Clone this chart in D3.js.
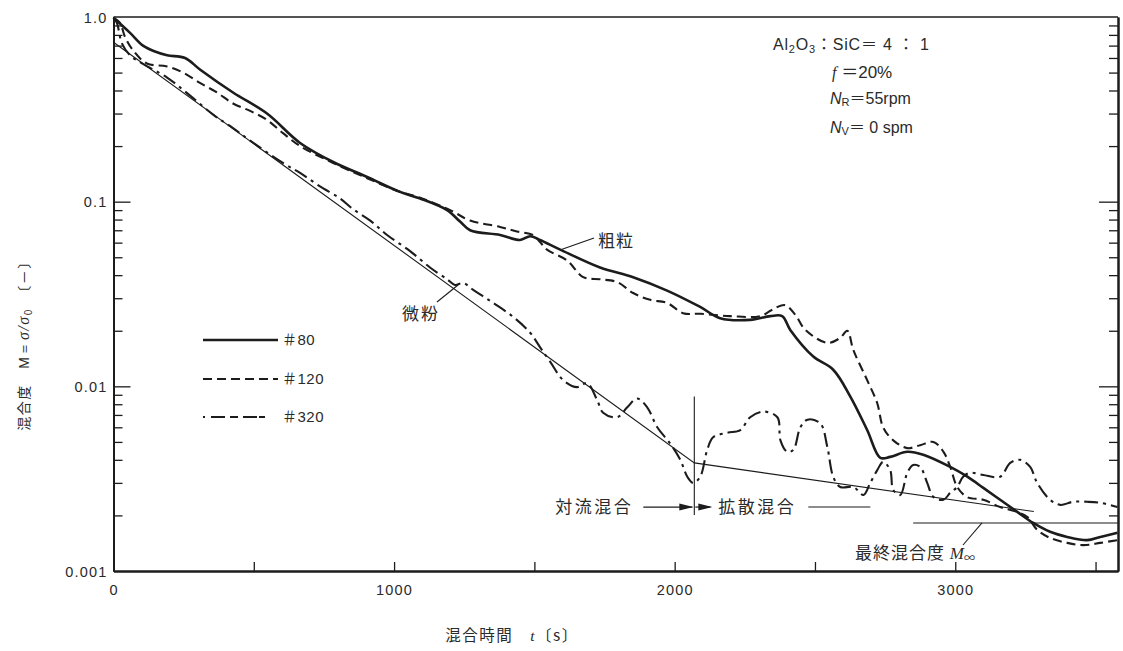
<!DOCTYPE html>
<html>
<head>
<meta charset="utf-8">
<script src="https://cdn.jsdelivr.net/npm/d3@7"></script>
<style>
  html, body { margin: 0; padding: 0; background: #fff; }
  svg { display: block; }
  text { font-family: "Liberation Sans", "Noto Sans CJK JP", sans-serif; fill: #2a2a2a; }
  .jp { font-family: "Noto Sans CJK JP", sans-serif; }
</style>
</head>
<body>
<svg id="chart" width="1123" height="651"></svg>
<script>
// ---- axis ticks ----
const xLabelTicks = [0, 1000, 2000, 3000];
const xTickMarks = [500, 1000, 1500, 2000, 2500, 3000, 3500];
const yMajorTicks = [1, 0.1, 0.01, 0.001];
const yTickLabels = ["1.0", "0.1", "0.01", "0.001"];

// ---- mixing degree M vs mixing time t [s] ----
// #80 (coarse particles)
const grit80 = [[0,0.99],[59,0.82],[105,0.70],[148,0.65],[191,0.62],[255,0.60],[308,0.52],[426,0.39],
  [547,0.30],[665,0.208],[783,0.164],[904,0.136],[1021,0.113],[1093,0.104],[1189,0.090],[1235,0.078],
  [1271,0.070],[1378,0.066],[1449,0.062],[1485,0.065],[1520,0.062],[1592,0.055],[1734,0.044],[1852,0.039],
  [1973,0.033],[2091,0.0269],[2162,0.0234],[2269,0.0229],[2341,0.024],[2383,0.024],[2412,0.0202],
  [2494,0.0145],[2565,0.0123],[2626,0.0088],[2686,0.0058],[2733,0.0041],[2768,0.00415],[2829,0.00442],
  [2886,0.00426],[2982,0.00366],[3043,0.00324],[3100,0.00282],[3160,0.00243],[3221,0.00209],[3278,0.00182],
  [3338,0.00163],[3399,0.00153],[3470,0.00147],[3517,0.00153],[3578,0.00161]];

// #120
const grit120 = [[0,0.99],[23,0.93],[41,0.78],[70,0.66],[119,0.56],[191,0.54],[248,0.50],[308,0.44],
  [369,0.39],[426,0.34],[487,0.31],[547,0.277],[604,0.235],[665,0.20],[783,0.162],[904,0.134],[1021,0.113],
  [1093,0.105],[1200,0.090],[1271,0.079],[1378,0.073],[1438,0.069],[1495,0.066],[1520,0.0605],[1545,0.055],
  [1617,0.048],[1674,0.039],[1734,0.038],[1795,0.0367],[1852,0.032],[1913,0.0294],[1973,0.0283],[2030,0.0249],
  [2091,0.0247],[2198,0.024],[2305,0.024],[2359,0.0266],[2394,0.0275],[2430,0.0244],[2466,0.0202],
  [2544,0.0172],[2590,0.0183],[2615,0.020],[2637,0.0157],[2686,0.0108],[2722,0.0081],[2743,0.0060],
  [2779,0.0051],[2829,0.00463],[2875,0.0048],[2922,0.0050],[2958,0.00442],[2982,0.00366],[3007,0.00285],
  [3043,0.00251],[3100,0.00243],[3160,0.00222],[3221,0.00209],[3257,0.00196],[3292,0.00167],[3338,0.00151],
  [3399,0.00142],[3456,0.00138],[3517,0.00142],[3578,0.00147]];

// #320 (fine powder)
const grit320 = [[0,0.99],[12,0.93],[30,0.72],[59,0.62],[105,0.557],[191,0.47],[273,0.375],[355,0.296],
  [426,0.25],[487,0.214],[604,0.162],[665,0.143],[736,0.121],[808,0.104],[854,0.091],[915,0.079],[975,0.066],
  [1057,0.054],[1128,0.044],[1189,0.038],[1217,0.0354],[1246,0.0363],[1282,0.0333],[1353,0.0283],
  [1424,0.0238],[1485,0.0195],[1520,0.0163],[1556,0.0136],[1603,0.0108],[1652,0.0099],[1688,0.0104],
  [1724,0.0084],[1745,0.0072],[1795,0.0068],[1831,0.0077],[1866,0.0086],[1902,0.0077],[1938,0.0060],
  [1984,0.0049],[2020,0.0040],[2045,0.00324],[2066,0.0030],[2091,0.00324],[2116,0.00453],[2137,0.0053],
  [2187,0.0056],[2234,0.0058],[2269,0.0068],[2316,0.0073],[2366,0.0068],[2377,0.0051],[2401,0.00442],
  [2423,0.00453],[2448,0.0060],[2473,0.0066],[2519,0.0063],[2544,0.0047],[2565,0.00324],[2590,0.00285],
  [2637,0.00285],[2673,0.00258],[2697,0.0030],[2722,0.00352],[2743,0.0039],[2768,0.00352],[2779,0.00275],
  [2804,0.00258],[2829,0.0034],[2850,0.00375],[2875,0.00366],[2900,0.0030],[2922,0.00252],[2958,0.00243],
  [2982,0.00265],[3007,0.00285],[3028,0.00324],[3053,0.0034],[3100,0.00331],[3160,0.00324],[3196,0.00385],
  [3231,0.0040],[3267,0.00366],[3292,0.0030],[3338,0.00243],[3374,0.00228],[3420,0.00237],[3470,0.00237],
  [3517,0.00234],[3578,0.00222]];

// convective → diffusive mixing trend for the fine powder
const trendLine = [[0,0.73],[2070,0.00385],[3280,0.0021]];
// transition time and final mixing degree M∞
const transitionTime = 2070;
const transitionSpan = [0.0088, 0.00201];
const finalMixing = { from: 2850, to: 3580, value: 0.00182 };
const arrowLevel = 0.00222;

const seriesNames = ["＃80", "＃120", "＃320"];

// ---- scales ----
const svg = d3.select("#chart");
const x = d3.scaleLinear().domain([0, 3580]).range([113.5, 1118]);
const y = d3.scaleLog().domain([0.001, 1]).range([571, 17]);
const [x0, x1] = x.range();
const [y0, y1] = y.range();

const ink = "#1c1c1c";

// minor log ticks 2..9 per decade
const yMinor = [];
[0.001, 0.01, 0.1].forEach(d => { for (let k = 2; k <= 9; k++) yMinor.push(d * k); });

// ---- frame ----
svg.append("line").attr("x1", x0).attr("x2", x1).attr("y1", y1).attr("y2", y1)
  .attr("stroke", ink).attr("stroke-width", 1.6);

// left axis
const leftMinor = svg.append("g").attr("transform", `translate(${x0},0)`)
  .call(d3.axisLeft(y).tickValues(yMinor).tickSize(-9).tickSizeOuter(0).tickFormat(""));
const leftMajor = svg.append("g").attr("transform", `translate(${x0},0)`)
  .call(d3.axisLeft(y).tickValues([0.1, 0.01]).tickSize(-17).tickSizeOuter(0).tickFormat(""));
const leftLabels = svg.append("g").attr("transform", `translate(${x0},0)`)
  .call(d3.axisLeft(y).tickValues(yMajorTicks).tickSize(0).tickPadding(6).tickSizeOuter(0)
    .tickFormat((d, i) => yTickLabels[i]));

// right axis
const rightMinor = svg.append("g").attr("transform", `translate(${x1},0)`)
  .call(d3.axisRight(y).tickValues(yMinor).tickSize(-9).tickSizeOuter(0).tickFormat(""));
const rightMajor = svg.append("g").attr("transform", `translate(${x1},0)`)
  .call(d3.axisRight(y).tickValues([0.1, 0.01]).tickSize(-19).tickSizeOuter(0).tickFormat(""));

// bottom axis
const bottomTicks = svg.append("g").attr("transform", `translate(0,${y0})`)
  .call(d3.axisBottom(x).tickValues(xTickMarks).tickSize(-9).tickSizeOuter(0).tickFormat(""));
const bottomLabels = svg.append("g").attr("transform", `translate(0,${y0})`)
  .call(d3.axisBottom(x).tickValues(xLabelTicks).tickSize(0).tickPadding(14).tickSizeOuter(0)
    .tickFormat(d3.format("d")));

[leftMinor, leftMajor, leftLabels, rightMinor, rightMajor, bottomTicks, bottomLabels].forEach(g => {
  g.selectAll(".tick line").attr("stroke", ink).attr("stroke-width", 1.3);
  g.select(".domain").attr("stroke", ink).attr("stroke-width", 2);
  g.selectAll(".tick text").attr("fill", "#2a2a2a").attr("font-size", 14.5)
    .attr("font-family", "'Liberation Sans', sans-serif").attr("letter-spacing", 1.2);
});
leftLabels.selectAll(".tick text").attr("dy", "0.35em");

// ---- curves ----
const line = d3.line().x(d => x(d[0])).y(d => y(d[1])).curve(d3.curveCatmullRom.alpha(0.5));

svg.append("path").datum(trendLine)
  .attr("d", d3.line().x(d => x(d[0])).y(d => y(d[1])))
  .attr("fill", "none").attr("stroke", ink).attr("stroke-width", 1.1);

const styles = [
  { data: grit80, width: 2.6, dash: null },
  { data: grit120, width: 2.1, dash: "9,5" },
  { data: grit320, width: 2.1, dash: "14,5,3,5" }
];
styles.forEach(s => {
  svg.append("path").datum(s.data).attr("d", line)
    .attr("fill", "none").attr("stroke", ink).attr("stroke-width", s.width)
    .attr("stroke-linejoin", "round")
    .attr("stroke-dasharray", s.dash);
});

// transition marker and final mixing degree
svg.append("line")
  .attr("x1", x(transitionTime)).attr("x2", x(transitionTime))
  .attr("y1", y(transitionSpan[0])).attr("y2", y(transitionSpan[1]))
  .attr("stroke", ink).attr("stroke-width", 1.1);
svg.append("line")
  .attr("x1", x(finalMixing.from)).attr("x2", x(finalMixing.to))
  .attr("y1", y(finalMixing.value)).attr("y2", y(finalMixing.value))
  .attr("stroke", ink).attr("stroke-width", 1.1);

// ---- annotations ----
const ay = y(arrowLevel);
const xt = x(transitionTime);
function arrowHead(tipX, yy) {
  svg.append("path")
    .attr("d", `M${tipX},${yy} L${tipX - 14},${yy - 3.5} L${tipX - 14},${yy + 3.5} Z`)
    .attr("fill", ink);
}
svg.append("line").attr("x1", xt - 51).attr("x2", xt - 2).attr("y1", ay).attr("y2", ay)
  .attr("stroke", ink).attr("stroke-width", 1.2);
arrowHead(xt - 1, ay);
svg.append("line").attr("x1", xt + 1).attr("x2", xt + 16).attr("y1", ay).attr("y2", ay)
  .attr("stroke", ink).attr("stroke-width", 1.2);
arrowHead(xt + 18, ay);
svg.append("line").attr("x1", xt + 114).attr("x2", xt + 176).attr("y1", ay).attr("y2", ay)
  .attr("stroke", ink).attr("stroke-width", 1.1);

const jpText = (tx, ty, str, size, spacing) => svg.append("text").attr("class", "jp")
  .attr("x", tx).attr("y", ty).attr("font-size", size || 17)
  .attr("letter-spacing", spacing === undefined ? 2.5 : spacing)
  .attr("dy", "0.35em").text(str);

jpText(xt - 139, ay, "対流混合");
jpText(xt + 24, ay, "拡散混合");

// final mixing degree label with leader
svg.append("line").attr("x1", 963).attr("y1", 545).attr("x2", 982).attr("y2", y(finalMixing.value))
  .attr("stroke", ink).attr("stroke-width", 1.1);
const mInf = jpText(855, 553, "最終混合度 ", 17, 1);
mInf.append("tspan").attr("font-family", "'Liberation Serif', serif").attr("font-style", "italic")
  .attr("letter-spacing", 0).text("M");
mInf.append("tspan").attr("font-size", 11).attr("dy", 3).attr("letter-spacing", 0).text("∞");

// curve labels with leaders
svg.append("line").attr("x1", 560).attr("y1", 250).attr("x2", 594).attr("y2", 238)
  .attr("stroke", ink).attr("stroke-width", 1.1);
jpText(598, 241, "粗粒", 17, 1);
svg.append("line").attr("x1", 437).attr("y1", 302).attr("x2", 458).attr("y2", 285)
  .attr("stroke", ink).attr("stroke-width", 1.1);
jpText(402, 314, "微粉", 17, 2);

// ---- legend ----
const legendRows = [340, 379, 417];
styles.forEach((s, i) => {
  svg.append("line").attr("x1", 203).attr("x2", 278)
    .attr("y1", legendRows[i]).attr("y2", legendRows[i])
    .attr("stroke", ink).attr("stroke-width", s.width)
    .attr("stroke-dasharray", i === 2 ? "2,6,14,5,8,5,14" : s.dash);
  svg.append("text").attr("x", 282).attr("y", legendRows[i]).attr("dy", "0.35em")
    .attr("font-size", 15).attr("letter-spacing", 0.5).text(seriesNames[i]);
});

// ---- condition block ----
const cond = svg.append("g").attr("font-size", 16);
const r1 = cond.append("text").attr("x", 773).attr("y", 50).attr("letter-spacing", 0.8);
r1.append("tspan").text("Al");
r1.append("tspan").attr("font-size", 11).attr("dy", 3).text("2");
r1.append("tspan").attr("dy", -3).text("O");
r1.append("tspan").attr("font-size", 11).attr("dy", 3).text("3");
r1.append("tspan").attr("dy", -3).text("：SiC＝ 4 ： 1");
const r2 = cond.append("text").attr("x", 832).attr("y", 78);
r2.append("tspan").attr("font-family", "'Liberation Serif', serif").attr("font-style", "italic").text("f");
r2.append("tspan").attr("font-size", 17).text("  ＝20%");
const r3 = cond.append("text").attr("x", 830).attr("y", 104);
r3.append("tspan").attr("font-style", "italic").text("N");
r3.append("tspan").attr("font-size", 11).attr("dy", 2).text("R");
r3.append("tspan").attr("dy", -2).text("＝55rpm");
const r4 = cond.append("text").attr("x", 830).attr("y", 133);
r4.append("tspan").attr("font-style", "italic").text("N");
r4.append("tspan").attr("font-size", 11).attr("dy", 2).text("V");
r4.append("tspan").attr("dy", -2).text("＝ 0 spm");

// ---- axis titles ----
const yTitle = svg.append("text").attr("class", "jp").attr("font-size", 14).attr("letter-spacing", 1.5)
  .attr("text-anchor", "middle").attr("transform", "translate(24,342) rotate(-90)").attr("dy", "0.35em");
yTitle.append("tspan").text("混合度　");
yTitle.append("tspan").attr("font-family", "'Liberation Sans', sans-serif").text("M＝");
yTitle.append("tspan").attr("font-family", "'Liberation Serif', serif").attr("font-style", "italic")
  .attr("font-size", 16).text("σ/σ");
yTitle.append("tspan").attr("font-size", 10).attr("dy", 3).text("0");
yTitle.append("tspan").attr("dy", -3).text("　〔－〕");

const xTitle = svg.append("text").attr("class", "jp").attr("font-size", 15.5).attr("letter-spacing", 1.5)
  .attr("text-anchor", "middle").attr("x", 512).attr("y", 636).attr("dy", "0.35em");
xTitle.append("tspan").text("混合時間　");
xTitle.append("tspan").attr("font-family", "'Liberation Serif', serif").attr("font-style", "italic").text("t");
xTitle.append("tspan").text("〔s〕");
</script>
</body>
</html>
